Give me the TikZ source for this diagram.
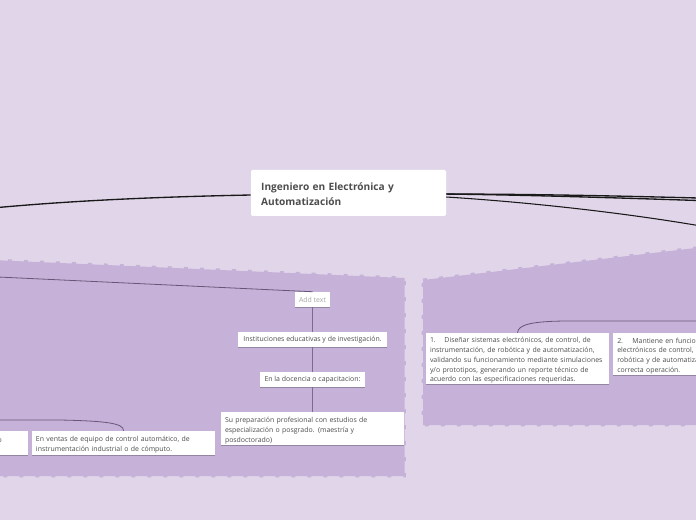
\documentclass[tikz,border=0pt]{standalone}
\usepackage{fontspec}
\setmainfont{Open Sans}
\usetikzlibrary{shadows}
\definecolor{bgpurple}{RGB}{225,214,233}
\definecolor{panelpurple}{RGB}{198,178,216}
\definecolor{textgray}{RGB}{77,77,77}
\definecolor{linepurple}{RGB}{105,85,120}
\definecolor{stempurple}{RGB}{125,105,140}
\tikzset{
	panel/.style={
		fill=panelpurple,
		draw=panelpurple,
		line width=2.2pt,
		dash pattern=on 3pt off 9pt},
	titlebox/.style={
		fill=white,
		rounded corners=1pt,
		inner sep=0pt,
		text=textgray,
		align=left,
		execute at begin node={\rule{0pt}{7.5pt}},
		font=\fontsize{7.6}{11.3}\selectfont\bfseries},
	textbox/.style={
		fill=white,
		inner sep=0pt,
		text=textgray,
		align=left,
		font=\fontsize{5.2}{7.35}\selectfont,
		drop shadow={shadow xshift=0pt,shadow yshift=-1pt,opacity=0.25,fill=black}},
	longbox/.style={
		textbox,
		minimum width=137.25pt,
		text width=131.25pt,
		execute at begin node={\rule{0pt}{7pt}}},
	linebox/.style={
		textbox,
		minimum height=11.25pt,
		align=center},
	mainline/.style={black!90,line width=1pt},
	subline/.style={linepurple,line width=0.6pt},
	stemline/.style={stempurple,line width=1.1pt}
}

\begin{document}
\begin{tikzpicture}[x=0.75pt,y=0.75pt,yscale=-1,xscale=1]
\useasboundingbox (0,0) rectangle (696,520);
\clip (0,0) rectangle (696,520);
\fill [bgpurple] (0,0) rectangle (696,520);

%panels
\draw [panel] (-8,260) -- (404.5,278) -- (404.5,476) -- (-8,476) -- cycle;
\draw [panel] (423,280) -- (704,247) -- (704,425) -- (423,425) -- cycle;

%free ends
\coordinate (leftend) at (-2,207.5);
\coordinate (rightendA) at (698,198);
\coordinate (rightendB) at (698,200.5);
\coordinate (rightendC) at (698,225.5);
\coordinate (addend) at (-2,277);
\coordinate (ventasend) at (-2,420);
\coordinate (disenarend) at (698,321);

%nodes
\node [titlebox,minimum width=146.25pt,minimum height=34.5pt,text width=131pt] (title) at (348.5,193) {Ingeniero en Electrónica y\\Automatización};
\node [linebox,minimum width=26.25pt,text=black!35] (addtext) at (312.5,299.5) {Add text};
\node [linebox,minimum width=111.75pt] (instituciones) at (312.5,339.5) {Instituciones educativas y de investigación.};
\node [linebox,minimum width=78.75pt] (docencia) at (312.5,379.5) {En la docencia o capacitacion:};
\node [longbox,minimum height=24.75pt] (preparacion) at (312.5,428.5) {Su preparación profesional con estudios de\\especialización o posgrado. (maestría y\\posdoctorado)};
\node [longbox,minimum height=18pt] (ventas) at (123.5,443) {En ventas de equipo de control automático, de\\instrumentación industrial o de cómputo.};
\node [longbox,minimum height=18pt,anchor=east] (leftcut) at (28,443) {\hspace*{111.7pt}o\\\mbox{}};
\node [longbox,minimum height=38.25pt] (disenar) at (517.5,358.5) {1.\hspace{6.5pt}Diseñar sistemas electrónicos, de control, de\\instrumentación, de robótica y de automatización,\\validando su funcionamiento mediante simulaciones\\y/o prototipos, generando un reporte técnico de\\acuerdo con las especificaciones requeridas.};
\node [longbox,minimum height=31.5pt,anchor=west] (mantiene) at (613,354) {2.\hspace{7pt}Mantiene en funcionamiento sistemas\\electrónicos de control, de instrumentación,\\robótica y de automatización, para su\\correcta operación.};

%connectors
\draw [mainline] ([yshift=1.5pt]title.west) .. controls (150,197) and (70,201) .. (leftend);
\draw [mainline] ([yshift=0.8pt]title.east) .. controls (530,194) and (620,196) .. (rightendA);
\draw [mainline] ([yshift=0.8pt]title.east) .. controls (530,195) and (620,198) .. (rightendB);
\draw [mainline,line width=0.8pt] ([yshift=3pt]title.east) .. controls (540,203) and (630,214) .. (rightendC);
\draw [subline] (addend) -- (addtext.north);
\draw [stemline] (addtext.south) -- (instituciones.north);
\draw [stemline] (instituciones.south) -- (docencia.north);
\draw [stemline] (docencia.south) -- (preparacion.north);
\draw [subline] (ventasend) -- (60,420) .. controls (105,421) and (124,423) .. (ventas.north);
\draw [subline] (disenar.north) .. controls (518,325) and (530,321) .. (570,321) -- (disenarend);

\end{tikzpicture}
\end{document}
